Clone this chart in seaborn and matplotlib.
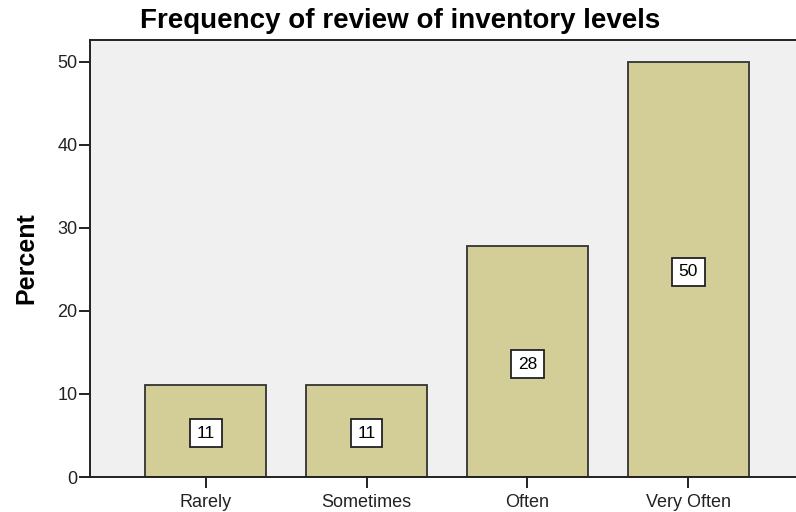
import matplotlib
matplotlib.use("Agg")
import matplotlib.pyplot as plt
import seaborn as sns
import pandas as pd

categories = ["Rarely", "Sometimes", "Often", "Very Often"]
percent = [11.1, 11.1, 27.8, 50.0]
labels = ["11", "11", "28", "50"]

df = pd.DataFrame({"freq": categories, "pct": percent})

sns.set_style("white")
plt.rcParams["font.family"] = ["Liberation Sans", "DejaVu Sans"]
plt.rcParams["text.color"] = "black"

fig = plt.figure(figsize=(7.96, 5.12), dpi=100)
ax = fig.add_axes([90 / 796, 35 / 512, 706 / 796, 437 / 512])
ax.set_facecolor("#F0F0F0")

sns.barplot(data=df, x="freq", y="pct", color="#D3CE97", width=0.75,
            edgecolor="#333333", linewidth=1.3, saturation=1, ax=ax)

# value labels in white boxes
for i, (p, lab) in enumerate(zip(percent, labels)):
    ax.text(i, p / 2 - 0.3, lab, ha="center", va="center", fontsize=12.5,
            color="black",
            bbox=dict(boxstyle="square,pad=0.38", fc="white", ec="#222222", lw=1.3))

ax.set_xlim(-0.72, 3.67)
ax.set_ylim(0, 52.6)
ax.set_yticks([0, 10, 20, 30, 40, 50])
ax.set_xlabel("")
ax.set_ylabel("Percent", fontsize=18, fontweight="bold", labelpad=14, color="black")
fig.text(400 / 796, 1 - 21 / 512, "Frequency of review of inventory levels",
         fontsize=20, fontweight="bold", color="black", ha="center", va="center")
ax.tick_params(axis="both", direction="out", length=8, width=1.4,
               labelsize=13, color="#222222", labelcolor="#222222",
               bottom=True, left=True)
ax.tick_params(axis="y", pad=1)
ax.tick_params(axis="x", pad=4)
for side in ["left", "bottom", "top"]:
    ax.spines[side].set_color("#222222")
    ax.spines[side].set_linewidth(1.4)
ax.spines["right"].set_visible(False)

plt.savefig("out.png", dpi=100)
